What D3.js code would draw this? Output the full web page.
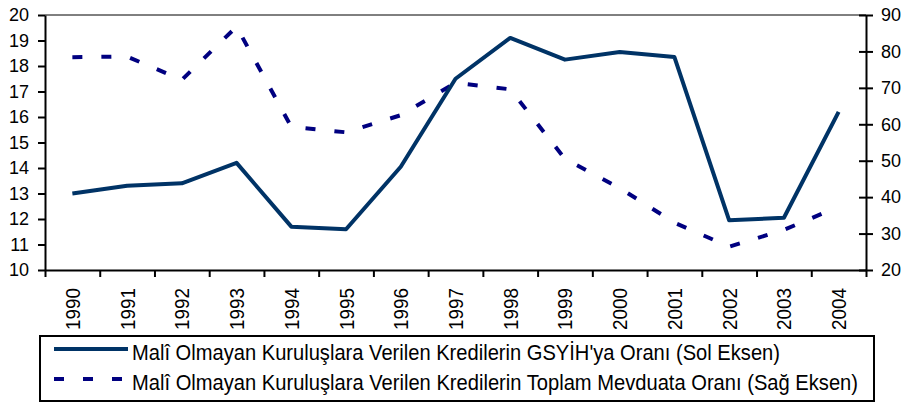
<!DOCTYPE html>
<html>
<head>
<meta charset="utf-8">
<script src="https://cdn.jsdelivr.net/npm/d3@7"></script>
<style>
  body { margin: 0; background: #fff; }
  text { font-family: "Liberation Sans", Arial, sans-serif; fill: #000; }
</style>
</head>
<body>
<svg width="906" height="403"></svg>
<script>
// Data
const years = ["1990", "1991", "1992", "1993", "1994", "1995", "1996", "1997",
  "1998", "1999", "2000", "2001", "2002", "2003", "2004"];
// Malî Olmayan Kuruluşlara Verilen Kredilerin GSYİH'ya Oranı (Sol Eksen)
const gdpRatio = [13.0, 13.3, 13.4, 14.2, 11.7, 11.6, 14.05, 17.5, 19.1, 18.25, 18.55, 18.35, 11.95, 12.05, 16.2];
// Malî Olmayan Kuruluşlara Verilen Kredilerin Toplam Mevduata Oranı (Sağ Eksen)
const depositRatio = [78.4, 78.6, 72.2, 86.8, 59.3, 57.8, 62.5, 71.4, 69.6, 50.5, 42.5, 33, 26.4, 31, 37.4];
const leftTicks = d3.range(10, 21, 1);
const rightTicks = d3.range(20, 91, 10);
const seriesNames = [
  "Malî Olmayan Kuruluşlara Verilen Kredilerin GSYİH'ya Oranı (Sol Eksen)",
  "Malî Olmayan Kuruluşlara Verilen Kredilerin Toplam Mevduata Oranı (Sağ Eksen)"
];

// Plot area
const plot = { left: 45, right: 866, top: 15, bottom: 270 };
const solidColor = "#003366", dashColor = "#000080";

const svg = d3.select("svg");

// Scales
const x = d3.scaleBand().domain(years).range([plot.left, plot.right]);
const xEdge = d3.scaleLinear().domain([0, years.length]).range([plot.left, plot.right]);
const yL = d3.scaleLinear().domain([10, 20]).range([plot.bottom, plot.top]);
const yR = d3.scaleLinear().domain([20, 90]).range([plot.bottom, plot.top]);
const cx = d => x(d) + x.bandwidth() / 2;

// Thin top border of the plot area
svg.append("line")
  .attr("x1", plot.left).attr("x2", plot.right)
  .attr("y1", plot.top).attr("y2", plot.top)
  .attr("stroke", "#000").attr("stroke-width", 1);

// Left axis
const gL = svg.append("g")
  .attr("transform", `translate(${plot.left},0)`)
  .call(d3.axisLeft(yL).tickValues(leftTicks).tickSize(7).tickSizeOuter(0).tickPadding(9));

// Right axis, ticks cross the line
const gR = svg.append("g")
  .attr("transform", `translate(${plot.right},0)`)
  .call(d3.axisRight(yR).tickValues(rightTicks).tickSize(7).tickSizeOuter(0).tickPadding(8));
gR.selectAll(".tick line").attr("x1", -7);

// Bottom axis, ticks at category edges
const gB = svg.append("g")
  .attr("transform", `translate(0,${plot.bottom})`)
  .call(d3.axisBottom(xEdge).tickValues(d3.range(0, years.length + 1)).tickSize(7).tickSizeOuter(0).tickFormat(""));

[gL, gR, gB].forEach(g => {
  g.select(".domain").attr("stroke", "#000").attr("stroke-width", 2);
  g.selectAll(".tick line").attr("stroke", "#000").attr("stroke-width", 2);
  g.selectAll(".tick text")
    .attr("font-family", "Liberation Sans, Arial, sans-serif")
    .attr("font-size", 18)
    .attr("fill", "#000");
});

// Year labels, rotated
svg.append("g").selectAll("text")
  .data(years)
  .join("text")
  .attr("transform", d => `translate(${cx(d) + 7.5},288) rotate(-90)`)
  .attr("text-anchor", "end")
  .attr("font-size", 20.5)
  .attr("textLength", 42)
  .attr("lengthAdjust", "spacingAndGlyphs")
  .text(d => d);

// Lines
const lineL = d3.line().x((d, i) => cx(years[i])).y(d => yL(d));
const lineR = d3.line().x((d, i) => cx(years[i])).y(d => yR(d));

svg.append("path")
  .datum(depositRatio)
  .attr("d", lineR)
  .attr("fill", "none")
  .attr("stroke", dashColor)
  .attr("stroke-width", 4)
  .attr("stroke-dasharray", "10,19");

svg.append("path")
  .datum(gdpRatio)
  .attr("d", lineL)
  .attr("fill", "none")
  .attr("stroke", solidColor)
  .attr("stroke-width", 4)
  .attr("stroke-linejoin", "round");

// Legend
const legend = svg.append("g");
legend.append("rect")
  .attr("x", 40).attr("y", 336)
  .attr("width", 834).attr("height", 65)
  .attr("fill", "#fff").attr("stroke", "#000").attr("stroke-width", 2);

legend.append("line")
  .attr("x1", 54).attr("x2", 128).attr("y1", 349).attr("y2", 349)
  .attr("stroke", solidColor).attr("stroke-width", 4);
legend.append("line")
  .attr("x1", 54).attr("x2", 128).attr("y1", 379).attr("y2", 379)
  .attr("stroke", dashColor).attr("stroke-width", 4)
  .attr("stroke-dasharray", "10,19");

legend.append("text")
  .attr("x", 132).attr("y", 360)
  .attr("font-size", 21.5)
  .attr("textLength", 648)
  .attr("lengthAdjust", "spacingAndGlyphs")
  .text(seriesNames[0]);
legend.append("text")
  .attr("x", 132).attr("y", 390)
  .attr("font-size", 21.5)
  .attr("textLength", 726)
  .attr("lengthAdjust", "spacingAndGlyphs")
  .text(seriesNames[1]);
</script>
</body>
</html>
